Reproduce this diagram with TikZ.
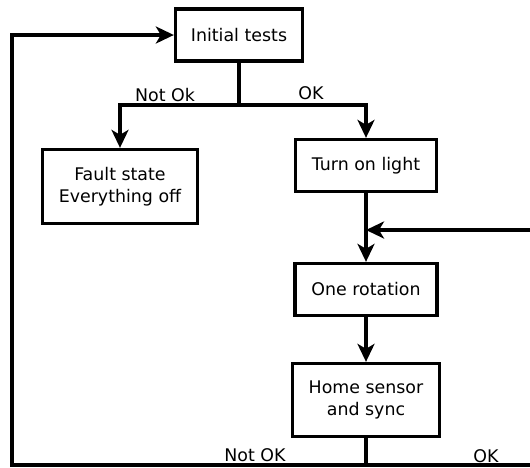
\documentclass[tikz,border=0pt]{standalone}
\usepackage{fontspec}
\setmainfont{DejaVu Sans}
\usetikzlibrary{arrows.meta}
\begin{document}
\begin{tikzpicture}[x=1pt,y=-1pt, line width=3.3pt,
 txt/.style={font=\fontsize{17.4}{22}\selectfont},
 box/.style={draw, line width=3.3pt, align=center, inner sep=0pt, txt},
 lbl/.style={txt, inner sep=0pt},
 arr/.style={-{Stealth[length=18pt,width=17pt,inset=5pt]}}]
\useasboundingbox (0,0) rectangle (530,467);
\node[box, minimum width=127pt, minimum height=52pt] (init) at (239,35) {Initial tests};
\node[box, minimum width=155pt, minimum height=74pt] (fault) at (120,186.5) {Fault state\\Everything off};
\node[box, minimum width=141pt, minimum height=52pt] (turn) at (366,165.5) {Turn on light};
\node[box, minimum width=142pt, minimum height=52pt] (rot) at (366,289.5) {One rotation};
\node[box, minimum width=147pt, minimum height=73pt] (home) at (366,400) {Home sensor\\and sync};
% split
\coordinate (split) at (239,105);
\coordinate (splitL) at (120,105);
\coordinate (splitR) at (366,105);
\draw (init.south) -- (split);
\draw[arr] (split) -- (splitL) -- (fault.north);
\draw[arr] (split) -- (splitR) -- (turn.north);
\node[lbl] (notok1) at (165,95) {Not Ok};
\node[lbl] (ok1) at (311,93) {OK};
% main flow
\draw[arr] (turn.south) -- (rot.north);
\coordinate (loopin) at (366,230);
\coordinate (rightin) at (532,230);
\draw[arr] (rightin) -- (loopin);
\draw[arr] (rot.south) -- (home.north);
% bottom
\coordinate (bot) at (366,465);
\coordinate (botR) at (532,465);
\coordinate (botL) at (12,465);
\coordinate (topL) at (12,35);
\draw (home.south) -- (bot);
\draw (bot) -- (botR);
\draw[arr] (bot) -- (botL) -- (topL) -- (init.west);
\node[lbl] (notok2) at (255,455) {Not OK};
\node[lbl] (ok2) at (486,456) {OK};
\end{tikzpicture}
\end{document}
